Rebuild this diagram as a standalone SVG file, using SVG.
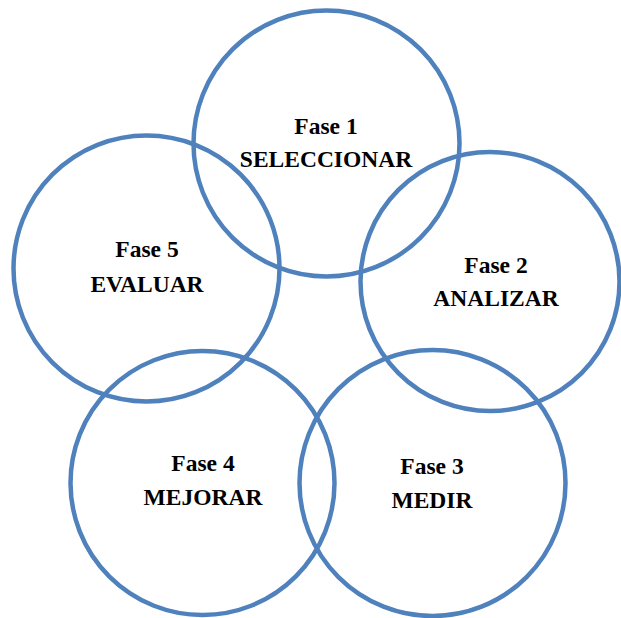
<svg xmlns="http://www.w3.org/2000/svg" width="621" height="618" viewBox="0 0 621 618">
<style>
.c{fill:none;stroke:#4f81bd;stroke-width:4.5}
.t{font-family:"Liberation Serif","Times New Roman",serif;font-weight:bold;font-size:23.5px;fill:#000;text-anchor:middle}
</style>
<rect width="621" height="618" fill="#fff"/>
<g id="fase1"><circle class="c" cx="326.5" cy="143.5" r="133"/><text class="t" x="326" y="134">Fase 1</text><text class="t" x="326" y="167">SELECCIONAR</text></g>
<g id="fase2"><circle class="c" cx="490" cy="281.5" r="129.5"/><text class="t" x="496" y="273">Fase 2</text><text class="t" x="496" y="306">ANALIZAR</text></g>
<g id="fase3"><circle class="c" cx="432.5" cy="483" r="133"/><text class="t" x="432" y="474">Fase 3</text><text class="t" x="432" y="508">MEDIR</text></g>
<g id="fase4"><circle class="c" cx="202.5" cy="483" r="132"/><text class="t" x="203" y="471">Fase 4</text><text class="t" x="203" y="505">MEJORAR</text></g>
<g id="fase5"><circle class="c" cx="146.5" cy="268.5" r="133"/><text class="t" x="147" y="257">Fase 5</text><text class="t" x="147" y="292">EVALUAR</text></g>
<g id="connectors"></g>
</svg>
